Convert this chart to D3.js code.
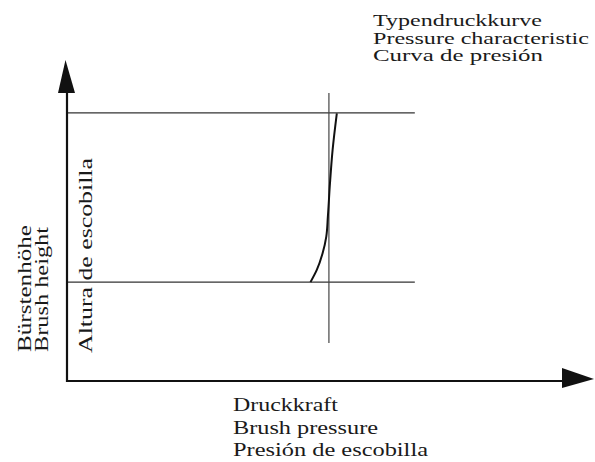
<!DOCTYPE html>
<html lang="es">
<head>
  <meta charset="UTF-8">
  <title>Typendruckkurve</title>
  <script src="https://d3js.org/d3.v7.min.js"></script>
  <style>
    body { margin: 0; background: #fff; }
    text { font-family: "Liberation Serif", "Times New Roman", serif; fill: #1a1a1a; }
  </style>
</head>
<body>
<script>
  var width = 595;
  var height = 462;

  // curve (x = pressure, y = height, arbitrary units)
  var curveX = [4.62, 4.74, 4.85, 4.92, 4.95, 4.99, 5.04, 5.12];
  var curveY = [3.08, 3.46, 3.98, 4.50, 5.12, 6.16, 7.20, 8.34];
  var levels = [3.08, 8.35];         // the two horizontal lines
  var levelEnd = 6.6;
  var markX = 4.97;                  // vertical line
  var markRange = [1.18, 8.97];

  var titleLines = ["Typendruckkurve", "Pressure characteristic", "Curva de presión"];
  var titleLen = [169, 216, 170];
  var xLines = ["Druckkraft", "Brush pressure", "Presión de escobilla"];
  var xLen = [105, 145, 195];
  var yLines = ["Bürstenhöhe", "Brush height"];
  var yLen = [127, 125];
  var innerLabel = "Altura de escobilla";

  var x = d3.scaleLinear().domain([0, 10]).range([67, 594]);
  var y = d3.scaleLinear().domain([0, 10]).range([381, 60]);

  var svg = d3.select("body").append("svg")
      .attr("width", width)
      .attr("height", height);

  // horizontal levels
  svg.selectAll("line.level")
      .data(levels)
      .enter().append("line")
      .attr("class", "level")
      .attr("x1", x(0)).attr("x2", x(levelEnd))
      .attr("y1", function(d) { return y(d); })
      .attr("y2", function(d) { return y(d); })
      .attr("stroke", "#333").attr("stroke-width", 1.3);

  // vertical line
  svg.append("line")
      .attr("x1", x(markX)).attr("x2", x(markX))
      .attr("y1", y(markRange[0])).attr("y2", y(markRange[1]))
      .attr("stroke", "#444").attr("stroke-width", 1.2);

  // pressure curve
  var pts = curveX.map(function(d, i) { return [d, curveY[i]]; });
  var line = d3.line()
      .x(function(d) { return x(d[0]); })
      .y(function(d) { return y(d[1]); })
      .curve(d3.curveMonotoneY);
  svg.append("path")
      .datum(pts)
      .attr("d", line)
      .attr("fill", "none")
      .attr("stroke", "#111")
      .attr("stroke-width", 2);

  // axes with arrows
  var x0 = x(0), y0 = y(0);
  svg.append("path")
      .attr("d", "M" + x0 + "," + (y0 + 1) + "V" + (y(10) + 20) + "M" + (x0 - 1) + "," + y0 + "H" + (x(10) - 20))
      .attr("fill", "none").attr("stroke", "#111").attr("stroke-width", 2.2);
  svg.append("path")
      .attr("d", "M" + (x0 - 1.5) + "," + y(10) + "L" + (x0 - 9) + "," + (y(10) + 33) + "L" + (x0 + 8) + "," + (y(10) + 33) + "Z")
      .attr("fill", "#111");
  svg.append("path")
      .attr("d", "M" + x(10) + "," + (y0 - 2) + "L" + (x(10) - 32) + "," + (y0 - 13) + "L" + (x(10) - 32) + "," + (y0 + 7) + "Z")
      .attr("fill", "#111");

  function label(sel, size) {
    sel.attr("font-size", size)
       .attr("lengthAdjust", "spacingAndGlyphs");
  }

  // title top right
  svg.selectAll("text.title")
      .data(titleLines)
      .enter().append("text")
      .attr("class", "title")
      .attr("x", 373)
      .attr("y", function(d, i) { return 26 + i * 17.5; })
      .attr("textLength", function(d, i) { return titleLen[i]; })
      .call(label, 17)
      .text(function(d) { return d; });

  // x label
  svg.selectAll("text.xlab")
      .data(xLines)
      .enter().append("text")
      .attr("class", "xlab")
      .attr("x", 233)
      .attr("y", function(d, i) { return 411 + i * 22.5; })
      .attr("textLength", function(d, i) { return xLen[i]; })
      .call(label, 19)
      .text(function(d) { return d; });

  // y label
  var yBase = [31, 48];
  svg.selectAll("text.ylab")
      .data(yLines)
      .enter().append("text")
      .attr("class", "ylab")
      .attr("transform", function(d, i) { return "translate(" + yBase[i] + ",352) rotate(-90)"; })
      .attr("textLength", function(d, i) { return yLen[i]; })
      .call(label, 19)
      .text(function(d) { return d; });

  svg.append("text")
      .attr("transform", "translate(92,353) rotate(-90)")
      .attr("textLength", 195)
      .call(label, 19)
      .text(innerLabel);
</script>
</body>
</html>
